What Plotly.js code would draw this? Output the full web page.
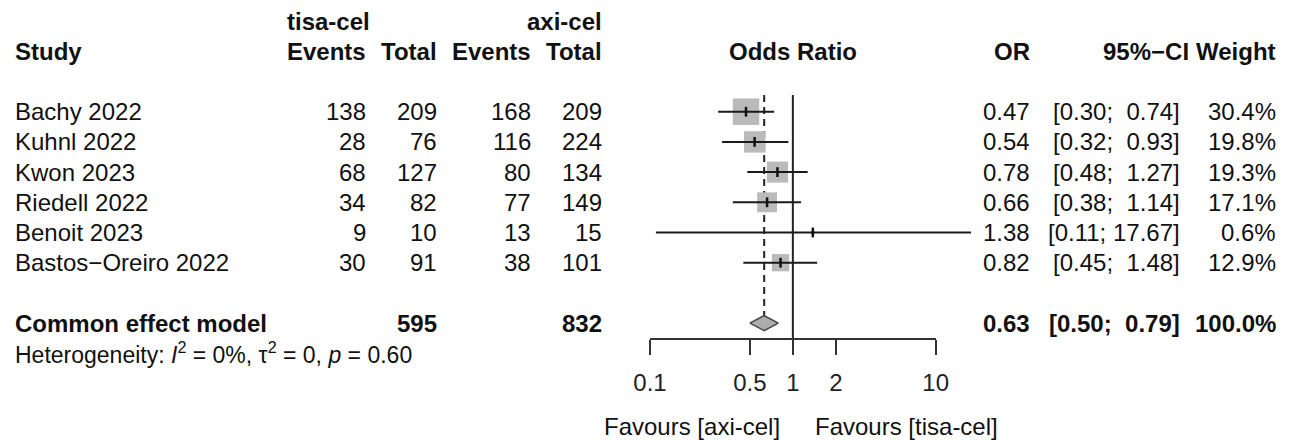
<!DOCTYPE html>
<html>
<head>
<meta charset="utf-8">
<script src="https://cdn.plot.ly/plotly-3.0.1.min.js"></script>
<style>html,body{margin:0;padding:0;background:#fff;}#chart{width:1290px;height:440px;}</style>
</head>
<body>
<div id="chart"></div>
<script>
// ---- data ----
const studies = ["Bachy 2022", "Kuhnl 2022", "Kwon 2023", "Riedell 2022", "Benoit 2023", "Bastos\u2212Oreiro 2022"];
const tisaEvents = [138, 28, 68, 34, 9, 30];
const tisaTotal = [209, 76, 127, 82, 10, 91];
const axiEvents = [168, 116, 80, 77, 13, 38];
const axiTotal = [209, 224, 134, 149, 15, 101];
const orValues = [0.47, 0.54, 0.78, 0.66, 1.38, 0.82];
const ciLower = [0.30, 0.32, 0.48, 0.38, 0.11, 0.45];
const ciUpper = [0.74, 0.93, 1.27, 1.14, 17.67, 1.48];
const weights = [30.4, 19.8, 19.3, 17.1, 0.6, 12.9];
const pooledOR = 0.63, pooledLower = 0.50, pooledUpper = 0.79, pooledWeight = 100.0;
const pooledTisaTotal = 595, pooledAxiTotal = 832;
const heterogeneityText = "Heterogeneity: <i>I</i><sup>2</sup> = 0%, \u03c4<sup>2</sup> = 0, <i>p</i> = 0.60";
const tickVals = [0.1, 0.5, 1, 2, 10];
const tickLabels = ["0.1", "0.5", "1", "2", "10"];
const groupLabels = ["tisa-cel", "axi-cel"];
const favourLabels = ["Favours [axi-cel]", "Favours [tisa-cel]"];

// ---- geometry ----
const W = 1290, H = 440;
const pxPerDecade = 142.85;
const x01 = 650;                  // pixel of 0.1
const xLeftLog = -1 - x01 / pxPerDecade;
const xRightLog = xLeftLog + W / pxPerDecade;
const rowH = 30.2, row1Y = 111.7;
const yTopIdx = 1 - row1Y / rowH;
const yBotIdx = yTopIdx + H / rowH;
const idxOf = py => (py - row1Y) / rowH + 1;
const axisPy = 338;
const axisIdx = idxOf(axisPy);
const pooledIdx = 8;
const diaHalf = 7.5 / rowH;
const refTopIdx = idxOf(95);

const FONT = "Liberation Sans, Arial, sans-serif";
const TXT = "#111";
const FS = 24;

const fmt2 = v => v.toFixed(2);
const nb = s => s.replace(/ /g, "\u00a0");
const upWidth = Math.max(...ciUpper.map(v => fmt2(v).length), fmt2(pooledUpper).length);
const loWidth = Math.max(...ciLower.map(v => fmt2(v).length), fmt2(pooledLower).length);
const ciStr = (lo, hi) => nb("[" + fmt2(lo).padStart(loWidth) + "; " + fmt2(hi).padStart(upWidth) + "]");

// ---- traces ----
const traces = [];
traces.push({x: [1, 1], y: [refTopIdx, axisIdx], mode: "lines", line: {color: "#222", width: 2}, hoverinfo: "skip", showlegend: false});
traces.push({x: [pooledOR, pooledOR], y: [refTopIdx, pooledIdx - diaHalf], mode: "lines", line: {color: "#222", width: 2, dash: "7px,5px"}, hoverinfo: "skip", showlegend: false});
const rowIdx = studies.map((_, i) => i + 1);
traces.push({x: orValues, y: rowIdx, mode: "markers", marker: {symbol: "square", size: weights.map(w => Math.sqrt(w) * 4.8), color: "#bababa", opacity: 1, line: {width: 0}}, hoverinfo: "skip", showlegend: false});
const cx = [], cy = [];
studies.forEach((_, i) => { cx.push(ciLower[i], ciUpper[i], null); cy.push(i + 1, i + 1, null); });
traces.push({x: cx, y: cy, mode: "lines", line: {color: "#1a1a1a", width: 2}, connectgaps: false, hoverinfo: "skip", showlegend: false});
traces.push({x: orValues, y: rowIdx, mode: "markers", marker: {symbol: "line-ns", size: 7, color: "#111", line: {color: "#111", width: 2.5}}, hoverinfo: "skip", showlegend: false});
traces.push({x: [pooledLower, pooledOR, pooledUpper, pooledOR, pooledLower], y: [pooledIdx, pooledIdx - diaHalf, pooledIdx, pooledIdx + diaHalf, pooledIdx], mode: "lines", fill: "toself", fillcolor: "#adadad", line: {color: "#444", width: 1.5}, hoverinfo: "skip", showlegend: false});
traces.push({x: [tickVals[0], tickVals[tickVals.length - 1]], y: [axisIdx, axisIdx], xaxis: "x2", yaxis: "y", mode: "lines", line: {width: 0, color: "rgba(0,0,0,0)"}, hoverinfo: "skip", showlegend: false});

// ---- annotations ----
const ann = [];
function A(text, px, idx, anchor, opts) {
  opts = opts || {};
  ann.push({text: text, x: px / W, xref: "paper", y: idx, yref: "y", xanchor: anchor, yanchor: "middle",
    showarrow: false, borderpad: 0, font: {family: FONT, size: opts.size || FS, color: TXT}});
}
const colStudy = 14, colTE = 367, colTT = 438, colAE = 532, colAT = 603;
const colOR = 1031, colCI = 1181, colW = 1277, colMid = 793;

A("<b>" + groupLabels[0] + "</b>", 286, -2, "left");
A("<b>" + groupLabels[1] + "</b>", colAT, -2, "right");
A("<b>Study</b>", colStudy, -1, "left");
A("<b>Events</b>", colTE, -1, "right");
A("<b>Total</b>", colTT, -1, "right");
A("<b>Events</b>", colAE, -1, "right");
A("<b>Total</b>", colAT, -1, "right");
A("<b>Odds Ratio</b>", colMid, -1, "center");
A("<b>OR</b>", colOR, -1, "right");
A("<b>95%\u2212CI</b>", 1190, -1, "right");
A("<b>Weight</b>", colW, -1, "right");

studies.forEach((s, i) => {
  const r = i + 1;
  A(s, colStudy, r, "left");
  A(String(tisaEvents[i]), colTE, r, "right");
  A(String(tisaTotal[i]), colTT, r, "right");
  A(String(axiEvents[i]), colAE, r, "right");
  A(String(axiTotal[i]), colAT, r, "right");
  A(fmt2(orValues[i]), colOR, r, "right");
  A(ciStr(ciLower[i], ciUpper[i]), colCI, r, "right");
  A(weights[i].toFixed(1) + "%", colW, r, "right");
});
A("<b>Common effect model</b>", colStudy, pooledIdx, "left");
A("<b>" + pooledTisaTotal + "</b>", colTT, pooledIdx, "right");
A("<b>" + pooledAxiTotal + "</b>", colAT, pooledIdx, "right");
A("<b>" + fmt2(pooledOR) + "</b>", colOR, pooledIdx, "right");
A("<b>" + ciStr(pooledLower, pooledUpper) + "</b>", colCI, pooledIdx, "right");
A("<b>" + pooledWeight.toFixed(1) + "%</b>", colW, pooledIdx, "right");
A(heterogeneityText, colStudy, 9.0, "left", {size: 23});
A(favourLabels[0], 781, idxOf(426), "right");
A(favourLabels[1], 814, idxOf(426), "left");

const layout = {
  width: W, height: H,
  margin: {l: 0, r: 0, t: 0, b: 0, pad: 0},
  paper_bgcolor: "#fff", plot_bgcolor: "rgba(0,0,0,0)",
  showlegend: false,
  xaxis: {type: "log", range: [xLeftLog, xRightLog], domain: [0, 1], visible: false, fixedrange: true},
  xaxis2: {type: "log", range: [-1, 1], domain: [x01 / W, (x01 + 2 * pxPerDecade) / W],
    anchor: "free", position: 1 - axisPy / H,
    showline: true, linecolor: "#333", linewidth: 1.6, showgrid: false, zeroline: false,
    ticks: "outside", ticklen: 15, tickwidth: 1.6, tickcolor: "#333",
    tickmode: "array", tickvals: tickVals, ticktext: tickLabels, ticklabelstandoff: 8,
    tickfont: {family: FONT, size: FS, color: "#222"}, fixedrange: true},
  yaxis: {range: [yBotIdx, yTopIdx], domain: [0, 1], visible: false, fixedrange: true},
  annotations: ann
};
Plotly.newPlot("chart", traces, layout, {staticPlot: true, displayModeBar: false});
</script>
</body>
</html>
